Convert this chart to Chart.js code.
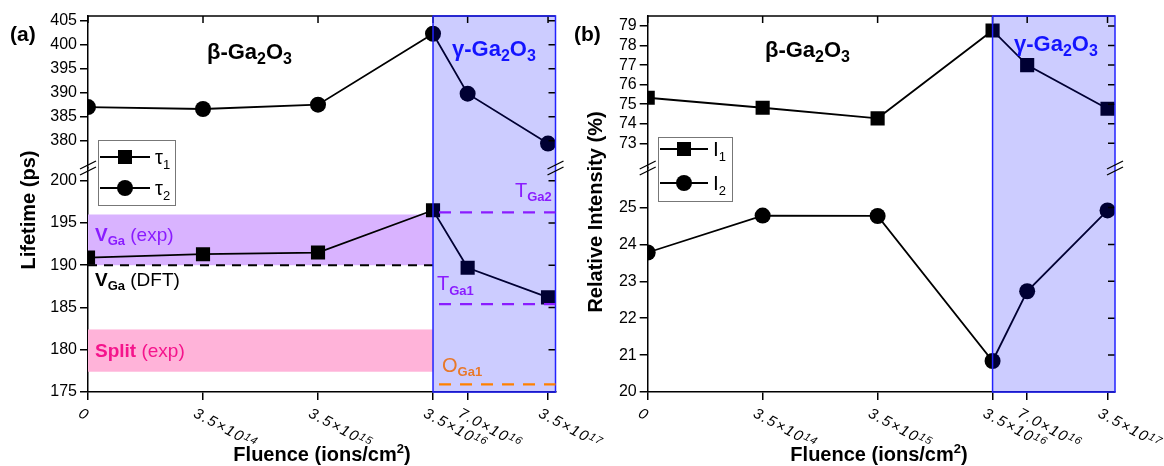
<!DOCTYPE html>
<html lang="en">
<head>
<meta charset="UTF-8">
<title>Lifetime and intensity vs fluence</title>
<script src="https://cdn.jsdelivr.net/npm/chart.js"></script>
<style>
    body { margin: 0; background: #fff; }
    #wrap { position: relative; width: 1164px; height: 466px; }
    canvas { position: absolute; top: 0; }
    #chartA { left: 0; }
    #chartB { left: 570px; }
</style>
</head>
<body>
<div id="wrap">
    <canvas id="chartA" width="620" height="466"></canvas>
    <canvas id="chartB" width="594" height="466"></canvas>
</div>
<script>
    // fluence categories, placed on a log-like axis (0 sits one decade below 3.5e14)
    var xPos = [0, 1, 2, 3, 3.301, 4];
    var xMant = ['0', '3.5×10', '3.5×10', '3.5×10', '7.0×10', '3.5×10'];
    var xExp = ['', '14', '15', '16', '16', '17'];

    // panel (a) lifetimes (ps)
    var tau1 = [190.9, 191.3, 191.5, 196.5, 189.7, 186.2];
    var tau2 = [387.0, 386.6, 387.5, 402.3, 389.8, 379.4];
    var ticksAtop = [380, 385, 390, 395, 400, 405];
    var ticksAbot = [175, 180, 185, 190, 195, 200];

    // panel (b) relative intensities (%)
    var int1 = [75.33, 74.82, 74.28, 78.77, 77.0, 74.77];
    var int2 = [23.78, 24.78, 24.77, 20.84, 22.73, 24.92];
    var ticksBtop = [73, 74, 75, 76, 77, 78, 79];
    var ticksBbot = [20, 21, 22, 23, 24, 25];

    var FF = '"Liberation Sans", Arial, Helvetica, sans-serif';
    function f(size, extra) { return (extra || '') + ' ' + size + 'px ' + FF; }

    function pairs(vals) {
        return vals.map(function (v, i) { return { x: xPos[i], y: v }; });
    }

    // draw a row of text pieces: [text, font, color, dy]
    function runs(ctx, x, y, parts) {
        ctx.textAlign = 'left';
        ctx.textBaseline = 'alphabetic';
        parts.forEach(function (p) {
            ctx.font = p[1];
            ctx.fillStyle = p[2];
            ctx.fillText(p[0], x, y + (p[3] || 0));
            x += ctx.measureText(p[0]).width;
        });
    }
    function runsWidth(ctx, parts) {
        var w = 0;
        parts.forEach(function (p) { ctx.font = p[1]; w += ctx.measureText(p[0]).width; });
        return w;
    }

    function gaO(x, y, greek, color) {
        return function (ctx) {
            runs(ctx, x, y, [
                [greek + '-Ga', f(22, 'bold'), color],
                ['2', f(16, 'bold'), color, 5],
                ['O', f(22, 'bold'), color],
                ['3', f(16, 'bold'), color, 5]
            ]);
        };
    }

    function hband(ctx, x1, x2, y1, y2, color) {
        ctx.fillStyle = color;
        ctx.fillRect(x1, Math.min(y1, y2), x2 - x1, Math.abs(y2 - y1));
    }

    function dashed(ctx, x1, x2, y, color, dash, lw) {
        ctx.save();
        ctx.strokeStyle = color;
        ctx.lineWidth = lw;
        ctx.setLineDash(dash);
        ctx.beginPath();
        ctx.moveTo(x1, y);
        ctx.lineTo(x2, y);
        ctx.stroke();
        ctx.restore();
    }

    function breakMark(ctx, x, y) {
        ctx.save();
        ctx.strokeStyle = '#000';
        ctx.lineWidth = 1.3;
        [-3, 3].forEach(function (d) {
            ctx.beginPath();
            ctx.moveTo(x - 8, y + d + 4);
            ctx.lineTo(x + 8, y + d - 4);
            ctx.stroke();
        });
        ctx.restore();
    }

    // frame, mirror ticks, breaks, x labels, titles, legend, gamma region
    function decorate(chart, cfg) {
        var ctx = chart.ctx;
        var a = chart.chartArea;
        var xs = chart.scales.x, yT = chart.scales.yT, yB = chart.scales.yB;
        var xg = xs.getPixelForValue(3);

        ctx.save();
        // gamma region overlay
        ctx.fillStyle = 'rgba(0,0,255,0.2)';
        ctx.fillRect(xg, a.top, a.right - xg, a.bottom - a.top);

        // top frame line
        ctx.strokeStyle = '#000';
        ctx.lineWidth = 1.5;
        ctx.beginPath();
        ctx.moveTo(a.left, a.top);
        ctx.lineTo(a.right, a.top);
        ctx.stroke();

        // mirror ticks
        ctx.beginPath();
        xPos.forEach(function (v) {
            var px = xs.getPixelForValue(v);
            ctx.moveTo(px, a.top);
            ctx.lineTo(px, a.top + 7);
        });
        [yT, yB].forEach(function (s) {
            s.ticks.forEach(function (t) {
                var py = s.getPixelForValue(t.value);
                ctx.moveTo(a.right - 7, py);
                ctx.lineTo(a.right, py);
            });
        });
        ctx.stroke();

        ctx.strokeStyle = '#2222FF';
        ctx.lineWidth = 1.5;
        ctx.strokeRect(xg, a.top, a.right - xg, a.bottom - a.top);

        breakMark(ctx, a.left, yT.bottom);
        breakMark(ctx, a.right, yT.bottom);

        // x tick labels, slanted down to the right, with raised exponent
        ctx.fillStyle = '#000';
        xPos.forEach(function (v, i) {
            var px = xs.getPixelForValue(v);
            ctx.save();
            ctx.translate(px - 5, a.bottom + 14);
            ctx.rotate(28 * Math.PI / 180);
            ctx.textBaseline = 'top';
            ctx.textAlign = 'left';
            ctx.letterSpacing = '1.5px';
            ctx.font = f(15, 'italic');
            ctx.fillText(xMant[i], 0, 0);
            var w = ctx.measureText(xMant[i]).width;
            ctx.letterSpacing = '1px';
            ctx.font = f(11, 'italic');
            ctx.fillText(xExp[i], w, -1);
            ctx.restore();
        });

        // x title
        var xt = [
            ['Fluence (ions/cm', f(20, 'bold'), '#000'],
            ['2', f(13, 'bold'), '#000', -8],
            [')', f(20, 'bold'), '#000']
        ];
        runs(ctx, cfg.xTitleX - runsWidth(ctx, xt) / 2, 461, xt);

        // y title
        ctx.save();
        ctx.translate(cfg.yTitle[1], cfg.yTitle[2]);
        ctx.rotate(-Math.PI / 2);
        ctx.font = f(20, 'bold');
        ctx.fillStyle = '#000';
        ctx.textAlign = 'center';
        ctx.textBaseline = 'middle';
        ctx.fillText(cfg.yTitle[0], 0, 0);
        ctx.restore();

        // panel letter
        runs(ctx, cfg.letter[1], 41, [[cfg.letter[0], f(21, 'bold'), '#000']]);

        // legend
        var L = cfg.legend;
        ctx.fillStyle = '#fff';
        ctx.fillRect(L.x, L.y, L.w, L.h);
        ctx.strokeStyle = '#777';
        ctx.lineWidth = 1;
        ctx.strokeRect(L.x + 0.5, L.y + 0.5, L.w, L.h);
        L.items.forEach(function (it) {
            ctx.strokeStyle = '#000';
            ctx.lineWidth = 1.8;
            ctx.beginPath();
            ctx.moveTo(L.x + 2, it.y);
            ctx.lineTo(L.x + L.lineLen, it.y);
            ctx.stroke();
            var mx = L.x + 2 + (L.lineLen - 2) / 2;
            ctx.fillStyle = '#000';
            if (it.shape === 'rect') {
                ctx.fillRect(mx - 7, it.y - 7, 14, 14);
            } else {
                ctx.beginPath();
                ctx.arc(mx, it.y, 8, 0, Math.PI * 2);
                ctx.fill();
            }
            runs(ctx, L.x + L.lineLen + 5, it.y + 7, [
                [it.sym, f(L.symSize), '#000'],
                [it.sub, f(13), '#000', 5]
            ]);
        });

        ctx.restore();
    }

    var violet = '#8A1CFF';

    var panelA = {
        id: 'panelA',
        beforeDatasetsDraw: function (chart) {
            var ctx = chart.ctx, a = chart.chartArea;
            var xs = chart.scales.x, yB = chart.scales.yB;
            var xg = xs.getPixelForValue(3);
            ctx.save();
            hband(ctx, a.left, xg, yB.getPixelForValue(196), yB.getPixelForValue(190), '#D9B3FF');
            hband(ctx, a.left, xg, yB.getPixelForValue(182.4), yB.getPixelForValue(177.4), '#FFB3D9');
            dashed(ctx, a.left, xg, yB.getPixelForValue(190), '#000', [9, 7], 2);
            ctx.restore();
        },
        afterDatasetsDraw: function (chart) {
            var ctx = chart.ctx, a = chart.chartArea;
            var xs = chart.scales.x, yB = chart.scales.yB;
            var xg = xs.getPixelForValue(3);
            decorate(chart, {
                xTitleX: 322,
                yTitle: ['Lifetime (ps)', 29, 210],
                letter: ['(a)', 10],
                legend: {
                    x: 98, y: 140, w: 77, h: 65, lineLen: 52, symSize: 20,
                    items: [
                        { shape: 'rect', y: 157, sym: 'τ', sub: '1' },
                        { shape: 'circle', y: 188, sym: 'τ', sub: '2' }
                    ]
                }
            });
            ctx.save();
            dashed(ctx, xg + 6, a.right, yB.getPixelForValue(196.25), violet, [12, 9], 2.2);
            dashed(ctx, xg + 6, a.right, yB.getPixelForValue(185.4), violet, [12, 9], 2.2);
            dashed(ctx, xg + 6, a.right, yB.getPixelForValue(175.9), '#FF8000', [12, 9], 2.2);

            gaO(207, 59, 'β', '#000')(ctx);
            gaO(452, 56, 'γ', '#1414FF')(ctx);

            runs(ctx, 95, 241, [['V', f(19, 'bold'), violet], ['Ga', f(13, 'bold'), violet, 4], [' (exp)', f(19), violet]]);
            runs(ctx, 95, 286, [['V', f(19, 'bold'), '#000'], ['Ga', f(13, 'bold'), '#000', 4], [' (DFT)', f(19), '#000']]);
            runs(ctx, 95, 357, [['Split', f(19, 'bold'), '#F5148C'], [' (exp)', f(19), '#F5148C']]);
            runs(ctx, 515, 197, [['T', f(20), violet], ['Ga2', f(13, 'bold'), violet, 4]]);
            runs(ctx, 437, 290, [['T', f(20), violet], ['Ga1', f(13, 'bold'), violet, 5]]);
            runs(ctx, 442, 372, [['O', f(20), '#E8782A'], ['Ga1', f(13, 'bold'), '#E8782A', 4]]);
            ctx.restore();
        }
    };

    var panelB = {
        id: 'panelB',
        afterDatasetsDraw: function (chart) {
            var ctx = chart.ctx;
            decorate(chart, {
                xTitleX: 309,
                yTitle: ['Relative Intensity (%)', 26, 212],
                letter: ['(b)', 4],
                legend: {
                    x: 88, y: 137, w: 74, h: 64, lineLen: 50, symSize: 21,
                    items: [
                        { shape: 'rect', y: 149, sym: 'I', sub: '1' },
                        { shape: 'circle', y: 183, sym: 'I', sub: '2' }
                    ]
                }
            });
            ctx.save();
            gaO(195, 57, 'β', '#000')(ctx);
            gaO(444, 51, 'γ', '#1414FF')(ctx);
            ctx.restore();
        }
    };

    function yScale(weight, min, max, tickVals, width) {
        return {
            type: 'linear',
            position: 'left',
            stack: 'v',
            stackWeight: weight,
            min: min,
            max: max,
            afterBuildTicks: function (s) {
                s.ticks = tickVals.map(function (v) { return { value: v }; });
            },
            afterFit: function (s) { s.width = width; },
            ticks: { color: '#000', font: { family: FF, size: 16 }, padding: 3, autoSkip: false },
            grid: { drawOnChartArea: false, tickLength: 8, color: '#000', lineWidth: 1.5 },
            border: { color: '#000', width: 1.5 }
        };
    }

    function lineSet(label, vals, axis, style, radius) {
        return {
            label: label,
            data: pairs(vals),
            yAxisID: axis,
            borderColor: '#000',
            borderWidth: 1.8,
            pointStyle: style,
            pointRadius: radius,
            pointBackgroundColor: '#000',
            pointBorderWidth: 0,
            clip: 0
        };
    }

    function makeChart(id, datasets, top, bot, leftW, rightPad, plugin) {
        return new Chart(document.getElementById(id), {
            type: 'line',
            data: { datasets: datasets },
            options: {
                responsive: false,
                animation: false,
                layout: { padding: { left: 0, top: 16, right: rightPad, bottom: 0 } },
                plugins: { legend: { display: false }, tooltip: { enabled: false } },
                scales: {
                    x: {
                        type: 'linear',
                        min: 0,
                        max: 4.065,
                        afterBuildTicks: function (s) {
                            s.ticks = xPos.map(function (v) { return { value: v }; });
                        },
                        afterFit: function (s) { s.height = 74; },
                        ticks: { display: false },
                        grid: { drawOnChartArea: false, tickLength: 8, color: '#000', lineWidth: 1.5 },
                        border: { color: '#000', width: 1.5 }
                    },
                    // stacked left axes: the one listed first ends up at the bottom
                    yB: yScale(224, bot[0], bot[1], bot[2], leftW),
                    yT: yScale(152, top[0], top[1], top[2], leftW)
                }
            },
            plugins: [plugin]
        });
    }

    makeChart('chartA', [
        lineSet('τ1', tau1, 'yB', 'rect', 10),
        lineSet('τ2', tau2, 'yT', 'circle', 8)
    ], [374.3, 406, ticksAtop], [175, 201.5, ticksAbot], 88, 64.5, panelA);

    makeChart('chartB', [
        lineSet('I1', int1, 'yT', 'rect', 10),
        lineSet('I2', int2, 'yB', 'circle', 8)
    ], [71.74, 79.51, ticksBtop], [20, 26.07, ticksBbot], 77.7, 49, panelB);
</script>
</body>
</html>
